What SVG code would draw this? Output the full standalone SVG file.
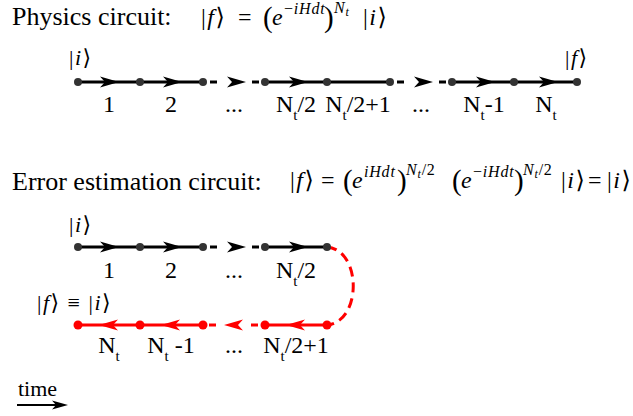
<svg xmlns="http://www.w3.org/2000/svg" xmlns:xlink="http://www.w3.org/1999/xlink" width="633" height="416" viewBox="0 0 633 416">
<defs>
<style>
.title{font-family:"Liberation Serif",serif;font-size:26px;fill:#000}
.lbl{font-family:"Liberation Serif",serif;font-size:24px;fill:#000;text-anchor:middle}
.sub{font-size:15px}
.m{font-family:"Liberation Serif","DejaVu Serif",serif;font-size:24px;fill:#000}
.ket{letter-spacing:1.5px}
.it{font-style:italic}
.par{font-family:"Liberation Serif",serif;font-size:29px;fill:#000}
.sup{font-family:"Liberation Serif","DejaVu Serif",serif;font-size:16px;fill:#000;letter-spacing:0.8px}
.ss{font-size:12px}
.st{font-family:"Liberation Serif","DejaVu Serif",serif;font-size:22px;fill:#000}
.k{stroke:#000;stroke-width:3;fill:none}
.r{stroke:#f00;stroke-width:3;fill:none}
.kd{fill:#333}
.rd{fill:#f00}
</style>
<path id="ah" d="M0,0 L-19,-5.5 L-14,0 L-19,5.5 Z"/>
<path id="ahs" d="M0,0 L-16,-4.5 L-12,0 L-16,4.5 Z"/>
</defs>

<text class="title" x="12" y="25">Physics circuit:</text>
<text class="title" x="12" y="190">Error estimation circuit:</text>

<!-- equation 1 -->
<g id="eq1">
<text class="m ket" x="201" y="25">|<tspan class="it">f</tspan>⟩</text>
<text class="m" x="238" y="25">=</text>
<text class="par" x="263" y="27">(</text>
<text class="m it" x="272" y="25">e</text>
<text class="sup" x="284" y="14">−<tspan class="it">iHdt</tspan></text>
<text class="par" x="324" y="27">)</text>
<text class="sup it" x="334" y="13">N<tspan class="ss" dy="3">t</tspan></text>
<text class="m ket" x="363" y="25">|<tspan class="it">i</tspan>⟩</text>
</g>

<!-- equation 2 -->
<g id="eq2">
<text class="m ket" x="290" y="188">|<tspan class="it">f</tspan>⟩</text>
<text class="m" x="321" y="188">=</text>
<text class="par" x="343" y="190">(</text>
<text class="m it" x="352" y="188">e</text>
<text class="sup it" x="364" y="177">iHdt</text>
<text class="par" x="397" y="190">)</text>
<text class="sup" x="406" y="175"><tspan class="it">N</tspan><tspan class="ss it" dy="3">t</tspan><tspan dy="-3">/2</tspan></text>
<text class="par" x="452" y="190">(</text>
<text class="m it" x="461" y="188">e</text>
<text class="sup" x="473" y="177">−<tspan class="it">iHdt</tspan></text>
<text class="par" x="514" y="190">)</text>
<text class="sup" x="523" y="175"><tspan class="it">N</tspan><tspan class="ss it" dy="3">t</tspan><tspan dy="-3">/2</tspan></text>
<text class="m ket" x="561" y="188">|<tspan class="it">i</tspan>⟩</text>
<text class="m" x="588" y="188">=</text>
<text class="m ket" x="607" y="188">|<tspan class="it">i</tspan>⟩</text>
</g>

<!-- connectors -->
<g id="connectors">
  <!-- physics row -->
  <line class="k" x1="78" y1="82" x2="140" y2="82"/>
  <line class="k" x1="140" y1="82" x2="203" y2="82"/>
  <line class="k" x1="210" y1="82" x2="217" y2="82"/>
  <line class="k" x1="252" y1="82" x2="259" y2="82"/>
  <line class="k" x1="265" y1="82" x2="327" y2="82"/>
  <line class="k" x1="327" y1="82" x2="390" y2="82"/>
  <line class="k" x1="397" y1="82" x2="404" y2="82"/>
  <line class="k" x1="439" y1="82" x2="446" y2="82"/>
  <line class="k" x1="452" y1="82" x2="514" y2="82"/>
  <line class="k" x1="514" y1="82" x2="577" y2="82"/>
  <use xlink:href="#ah" transform="translate(119,82)"/>
  <use xlink:href="#ah" transform="translate(182,82)"/>
  <use xlink:href="#ah" transform="translate(246,82)"/>
  <use xlink:href="#ah" transform="translate(308,82)"/>
  <use xlink:href="#ah" transform="translate(433,82)"/>
  <use xlink:href="#ah" transform="translate(495,82)"/>
  <use xlink:href="#ah" transform="translate(558,82)"/>

  <!-- error row forward -->
  <line class="k" x1="78" y1="247" x2="140" y2="247"/>
  <line class="k" x1="140" y1="247" x2="203" y2="247"/>
  <line class="k" x1="210" y1="247" x2="217" y2="247"/>
  <line class="k" x1="252" y1="247" x2="259" y2="247"/>
  <line class="k" x1="265" y1="247" x2="327" y2="247"/>
  <use xlink:href="#ah" transform="translate(119,247)"/>
  <use xlink:href="#ah" transform="translate(182,247)"/>
  <use xlink:href="#ah" transform="translate(246,247)"/>
  <use xlink:href="#ah" transform="translate(308,247)"/>

  <!-- turn-around -->
  <path class="r" d="M327,247 C362,250 362,322 327,325" stroke-dasharray="10,6"/>

  <!-- error row backward -->
  <line class="r" x1="327" y1="325" x2="265" y2="325"/>
  <line class="r" x1="258" y1="325" x2="251" y2="325"/>
  <line class="r" x1="216" y1="325" x2="209" y2="325"/>
  <line class="r" x1="203" y1="325" x2="140" y2="325"/>
  <line class="r" x1="140" y1="325" x2="78" y2="325"/>
  <g fill="#f00">
  <use xlink:href="#ah" transform="translate(286,325) rotate(180)"/>
  <use xlink:href="#ah" transform="translate(224,325) rotate(180)"/>
  <use xlink:href="#ah" transform="translate(161,325) rotate(180)"/>
  <use xlink:href="#ah" transform="translate(99,325) rotate(180)"/>
  </g>

  <!-- time arrow -->
  <line x1="17" y1="405" x2="57" y2="405" stroke="#000" stroke-width="1.8"/>
  <use xlink:href="#ahs" transform="translate(68,405)"/>
</g>

<!-- nodes -->
<g id="n1-0"><circle class="kd" cx="78" cy="82" r="4"/><text class="st ket" x="69" y="65">|<tspan class="it">i</tspan>⟩</text></g>
<g id="n1-1"><circle class="kd" cx="140" cy="82" r="4"/></g>
<g id="n1-2"><circle class="kd" cx="203" cy="82" r="4"/></g>
<g id="n1-3"><circle class="kd" cx="265" cy="82" r="4"/></g>
<g id="n1-4"><circle class="kd" cx="327" cy="82" r="4"/></g>
<g id="n1-5"><circle class="kd" cx="390" cy="82" r="4"/></g>
<g id="n1-6"><circle class="kd" cx="452" cy="82" r="4"/></g>
<g id="n1-7"><circle class="kd" cx="514" cy="82" r="4"/></g>
<g id="n1-8"><circle class="kd" cx="577" cy="82" r="4"/><text class="st ket" x="565" y="65">|<tspan class="it">f</tspan>⟩</text></g>

<g id="n2-0"><circle class="kd" cx="78" cy="247" r="4"/><text class="st ket" x="69" y="232">|<tspan class="it">i</tspan>⟩</text></g>
<g id="n2-1"><circle class="kd" cx="140" cy="247" r="4"/></g>
<g id="n2-2"><circle class="kd" cx="203" cy="247" r="4"/></g>
<g id="n2-3"><circle class="kd" cx="265" cy="247" r="4"/></g>
<g id="n2-4"><circle class="kd" cx="327" cy="247" r="4"/></g>

<g id="n3-4"><circle class="rd" cx="327" cy="325" r="4.5"/></g>
<g id="n3-3"><circle class="rd" cx="265" cy="325" r="4.5"/></g>
<g id="n3-2"><circle class="rd" cx="203" cy="325" r="4.5"/></g>
<g id="n3-1"><circle class="rd" cx="140" cy="325" r="4.5"/></g>
<g id="n3-0"><circle class="rd" cx="78" cy="325" r="4.5"/><text class="st ket" x="37" y="310">|<tspan class="it">f</tspan>⟩ ≡ |<tspan class="it">i</tspan>⟩</text></g>

<!-- step labels -->
<g id="labels">
<text class="lbl" x="109" y="112">1</text>
<text class="lbl" x="171" y="112">2</text>
<text class="lbl" x="234" y="112">...</text>
<text class="lbl" x="296" y="112">N<tspan class="sub" dy="8">t</tspan><tspan dy="-8">/2</tspan></text>
<text class="lbl" x="358" y="112">N<tspan class="sub" dy="8">t</tspan><tspan dy="-8">/2+1</tspan></text>
<text class="lbl" x="421" y="112">...</text>
<text class="lbl" x="484" y="112">N<tspan class="sub" dy="8">t</tspan><tspan dy="-8">-1</tspan></text>
<text class="lbl" x="546" y="112">N<tspan class="sub" dy="8">t</tspan></text>

<text class="lbl" x="109" y="278">1</text>
<text class="lbl" x="171" y="278">2</text>
<text class="lbl" x="234" y="278">...</text>
<text class="lbl" x="296" y="278">N<tspan class="sub" dy="8">t</tspan><tspan dy="-8">/2</tspan></text>

<text class="lbl" x="109" y="353">N<tspan class="sub" dy="8">t</tspan></text>
<text class="lbl" x="171" y="353">N<tspan class="sub" dy="8">t</tspan><tspan dy="-8"> -1</tspan></text>
<text class="lbl" x="234" y="353">...</text>
<text class="lbl" x="296" y="353">N<tspan class="sub" dy="8">t</tspan><tspan dy="-8">/2+1</tspan></text>

<text class="st" x="18" y="396">time</text>
</g>
</svg>
